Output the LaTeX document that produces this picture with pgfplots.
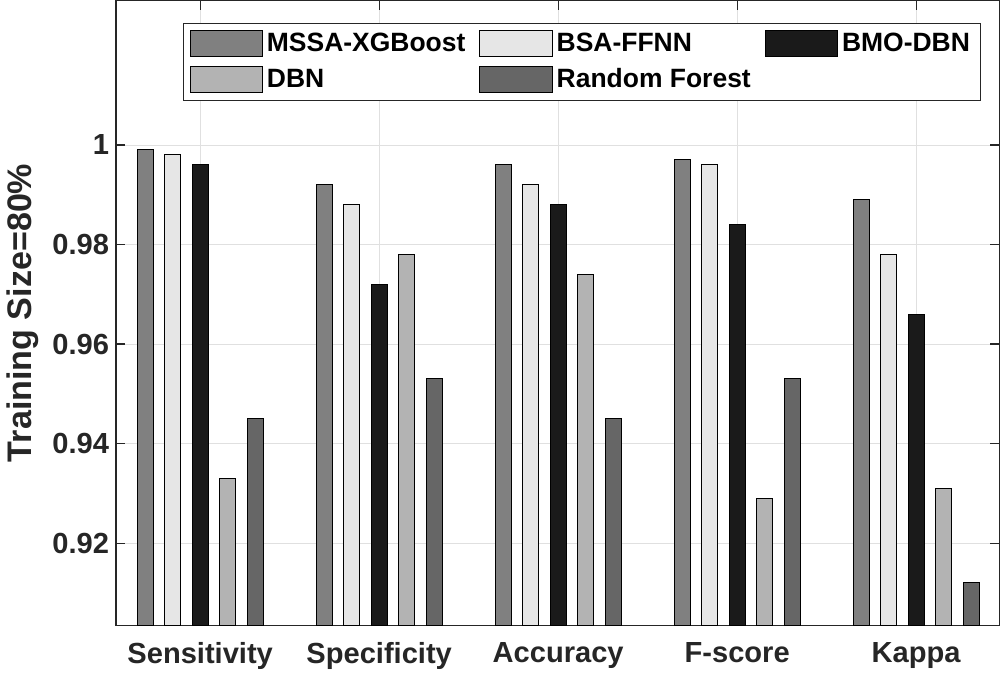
\documentclass[border=0pt]{standalone}
\usepackage{fontspec}
\setmainfont{Liberation Sans}
\usepackage{pgfplots}
\pgfplotsset{compat=1.18}

\definecolor{cMSSA}{HTML}{808080}
\definecolor{cBSA}{HTML}{E6E6E6}
\definecolor{cBMO}{HTML}{1A1A1A}
\definecolor{cDBN}{HTML}{B3B3B3}
\definecolor{cRF}{HTML}{666666}
\definecolor{axgray}{HTML}{262626}

\begin{document}
\begin{tikzpicture}
\begin{axis}[
    scale only axis,
    width=440.5pt, height=311.5pt,
    ybar=5.75pt, bar width=8pt,
    xmin=0.53, xmax=5.465,
    ymin=0.9035, ymax=1.029,
    xtick={1,2,3,4,5},
    xticklabels={Sensitivity,Specificity,Accuracy,F-score,Kappa},
    ytick={0.92,0.94,0.96,0.98,1},
    yticklabels={0.92,0.94,0.96,0.98,1},
    tick align=inside,
    major tick length=4.5pt,
    xtick pos=both, ytick pos=both,
    grid=major,
    grid style={draw=black!12, line width=0.4pt},
    axis line style={draw=axgray, line width=0.6pt},
    tick style={draw=axgray, line width=0.6pt},
    /pgf/number format/assume math mode=true,
    yticklabel style={font=\bfseries\fontsize{14.5}{15}\selectfont, text=axgray},
    xticklabel style={font=\bfseries\fontsize{14.5}{15}\selectfont, text=axgray, yshift=-5pt},
    ylabel={Training Size=80\%},
    ylabel style={font=\bfseries\fontsize{17}{18}\selectfont, text=axgray},
    every axis plot/.append style={draw=black, line width=0.5pt},
    legend columns=3,
    legend cell align=left,
    legend style={at={(0.076,0.9647)}, anchor=north west,
        font=\bfseries\fontsize{13.2}{14}\selectfont,
        draw=axgray, line width=0.5pt,
        row sep=3pt,
        /tikz/every even column/.append style={column sep=5pt},
        inner xsep=3pt, inner ysep=3pt},
    legend image code/.code={\draw[#1] (0pt,-6.5pt) rectangle (36pt,6.5pt);},
]
\addplot[fill=cMSSA] coordinates {(1,0.999) (2,0.992) (3,0.996) (4,0.997) (5,0.989)};
\addplot[fill=cBSA]  coordinates {(1,0.998) (2,0.988) (3,0.992) (4,0.996) (5,0.978)};
\addplot[fill=cBMO]  coordinates {(1,0.996) (2,0.972) (3,0.988) (4,0.984) (5,0.966)};
\addplot[fill=cDBN]  coordinates {(1,0.933) (2,0.978) (3,0.974) (4,0.929) (5,0.931)};
\addplot[fill=cRF]   coordinates {(1,0.945) (2,0.953) (3,0.945) (4,0.953) (5,0.912)};
\legend{MSSA-XGBoost, BSA-FFNN, BMO-DBN, DBN, Random Forest}
\end{axis}
\end{tikzpicture}
\end{document}
